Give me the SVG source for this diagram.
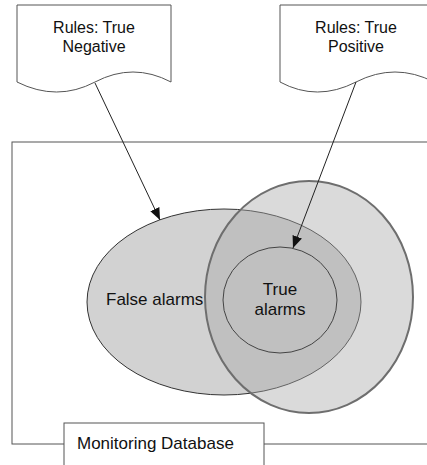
<svg xmlns="http://www.w3.org/2000/svg" width="427" height="465" viewBox="0 0 427 465">
<style>
.t{font-family:"Liberation Sans",Arial,sans-serif;font-size:17px;fill:#111;}
.d{font-size:16px;}
.box{fill:#fff;stroke:#555;stroke-width:1;}
.con{stroke:#222;stroke-width:1;fill:none;}
</style>
<defs>
<marker id="ah" viewBox="0 0 12 10" refX="12" refY="5" markerWidth="12" markerHeight="10" markerUnits="userSpaceOnUse" orient="auto">
<path d="M0,0 L12,5 L0,10 Z" fill="#111"/>
</marker>
</defs>
<rect width="427" height="465" fill="#fff"/>
<g id="monitoring-database-frame">
<rect x="12" y="142" width="440" height="302" fill="none" stroke="#555" stroke-width="1"/>
</g>
<g id="false-alarms">
<ellipse cx="224" cy="302" rx="137" ry="93" fill="#d2d2d2" stroke="#333" stroke-width="1"/>
<text class="t" x="106" y="305">False alarms</text>
</g>
<g id="positive-set">
<ellipse cx="309" cy="297" rx="104" ry="116" fill="#a8a8a8" fill-opacity="0.42" stroke="#6e6e6e" stroke-width="2"/>
</g>
<g id="true-alarms">
<ellipse cx="280" cy="300" rx="57" ry="53" fill="none" stroke="#444" stroke-width="1"/>
<text class="t" x="280" y="295" text-anchor="middle">True</text>
<text class="t" x="280" y="315" text-anchor="middle">alarms</text>
</g>
<g id="rules-true-negative">
<path class="box" d="M17,82 V5 H171 V82 Q133,62 95,82 T17,82 Z"/>
<text class="t d" x="94" y="33" text-anchor="middle">Rules: True</text>
<text class="t d" x="94" y="52" text-anchor="middle">Negative</text>
</g>
<g id="rules-true-positive">
<path class="box" d="M280,82 V5 H434 V82 Q395,62 356,82 T280,82 Z"/>
<text class="t d" x="356" y="33" text-anchor="middle">Rules: True</text>
<text class="t d" x="356" y="52" text-anchor="middle">Positive</text>
</g>
<g id="monitoring-database">
<rect class="box" x="64" y="423" width="200" height="50"/>
<text class="t" x="77" y="449">Monitoring Database</text>
</g>
<g id="connectors">
<line class="con" x1="95" y1="83" x2="160" y2="220" marker-end="url(#ah)"/>
<line class="con" x1="356" y1="82" x2="293" y2="248" marker-end="url(#ah)"/>
</g>
</svg>
